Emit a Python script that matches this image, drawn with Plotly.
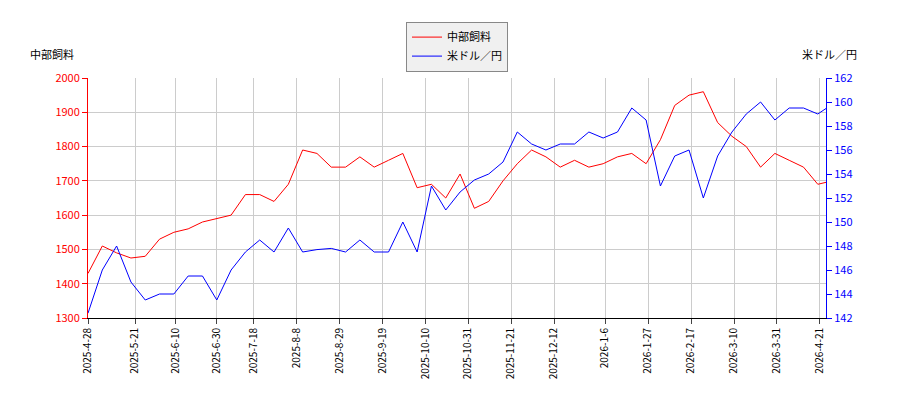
import pandas as pd
import plotly.graph_objects as go

dates = pd.date_range("2025-04-28", periods=53, freq="7D")
chubu = [1430,1510,1490,1475,1480,1530,1550,1560,1580,1590,1600,1660,1660,1640,1690,1790,
         1780,1740,1740,1770,1740,1760,1780,1680,1690,1650,1720,1620,1640,1700,1750,1790,
         1770,1740,1760,1740,1750,1770,1780,1750,1820,1920,1950,1960,1870,1830,1800,1740,
         1780,1760,1740,1690,1700]
usdjpy = [142.4,146,148,145,143.5,144,144,145.5,145.5,143.5,146,147.5,148.5,147.5,149.5,147.5,
          147.7,147.8,147.5,148.5,147.5,147.5,150,147.5,153,151,152.5,153.5,154,155,157.5,156.5,
          156,156.5,156.5,157.5,157,157.5,159.5,158.5,153,155.5,156,152,155.5,157.5,159,160,
          158.5,159.5,159.5,159,159.8]
tick_dates = ["2025-04-28","2025-05-21","2025-06-10","2025-06-30","2025-07-18","2025-08-08",
              "2025-08-29","2025-09-19","2025-10-10","2025-10-31","2025-11-21","2025-12-12",
              "2026-01-06","2026-01-27","2026-02-17","2026-03-10","2026-03-31","2026-04-21"]
tick_text = ["2025-4-28","2025-5-21","2025-6-10","2025-6-30","2025-7-18","2025-8-8",
             "2025-8-29","2025-9-19","2025-10-10","2025-10-31","2025-11-21","2025-12-12",
             "2026-1-6","2026-1-27","2026-2-17","2026-3-10","2026-3-31","2026-4-21"]

fig = go.Figure()
fig.add_trace(go.Scatter(x=dates, y=chubu, name="中部飼料", line=dict(color="red", width=1)))
fig.add_trace(go.Scatter(x=dates, y=usdjpy, name="米ドル／円", yaxis="y2", line=dict(color="blue", width=1)))
font = "Noto Sans CJK JP"
fig.update_layout(
    width=900, height=400, margin=dict(l=80, r=82, t=70, b=90, autoexpand=False),
    plot_bgcolor="white", paper_bgcolor="white",
    font=dict(family=font, size=11, color="black"),
    legend=dict(x=0.5, y=1.235, xanchor="center", yanchor="top", bordercolor="#888",
                borderwidth=1, bgcolor="#f0f0f0"),
    xaxis=dict(range=["2025-04-28","2026-04-24"], tickvals=tick_dates, ticktext=tick_text,
               tickangle=-90, showgrid=True, gridcolor="#ccc", ticks="outside", automargin=False,
               showline=True, linecolor="black", mirror=False, tickfont=dict(size=10)),
    yaxis=dict(range=[1300,2000], dtick=100, showgrid=True, gridcolor="#ccc", automargin=False,
               showline=True, linecolor="red", ticks="outside", tickcolor="red",
               tickfont=dict(color="red"), zeroline=False),
    yaxis2=dict(range=[142,162], dtick=2, overlaying="y", side="right", showgrid=False,
                showline=True, linecolor="blue", ticks="outside", tickcolor="blue", automargin=False,
                tickfont=dict(color="blue"), zeroline=False),
    annotations=[
        dict(text="中部飼料", x=0, y=1.06, xref="paper", yref="paper", xanchor="right",
             yanchor="bottom", xshift=-12, showarrow=False),
        dict(text="米ドル／円", x=1, y=1.06, xref="paper", yref="paper", xanchor="left",
             yanchor="bottom", xshift=-26, showarrow=False),
    ],
)
fig.write_html("out.html")
